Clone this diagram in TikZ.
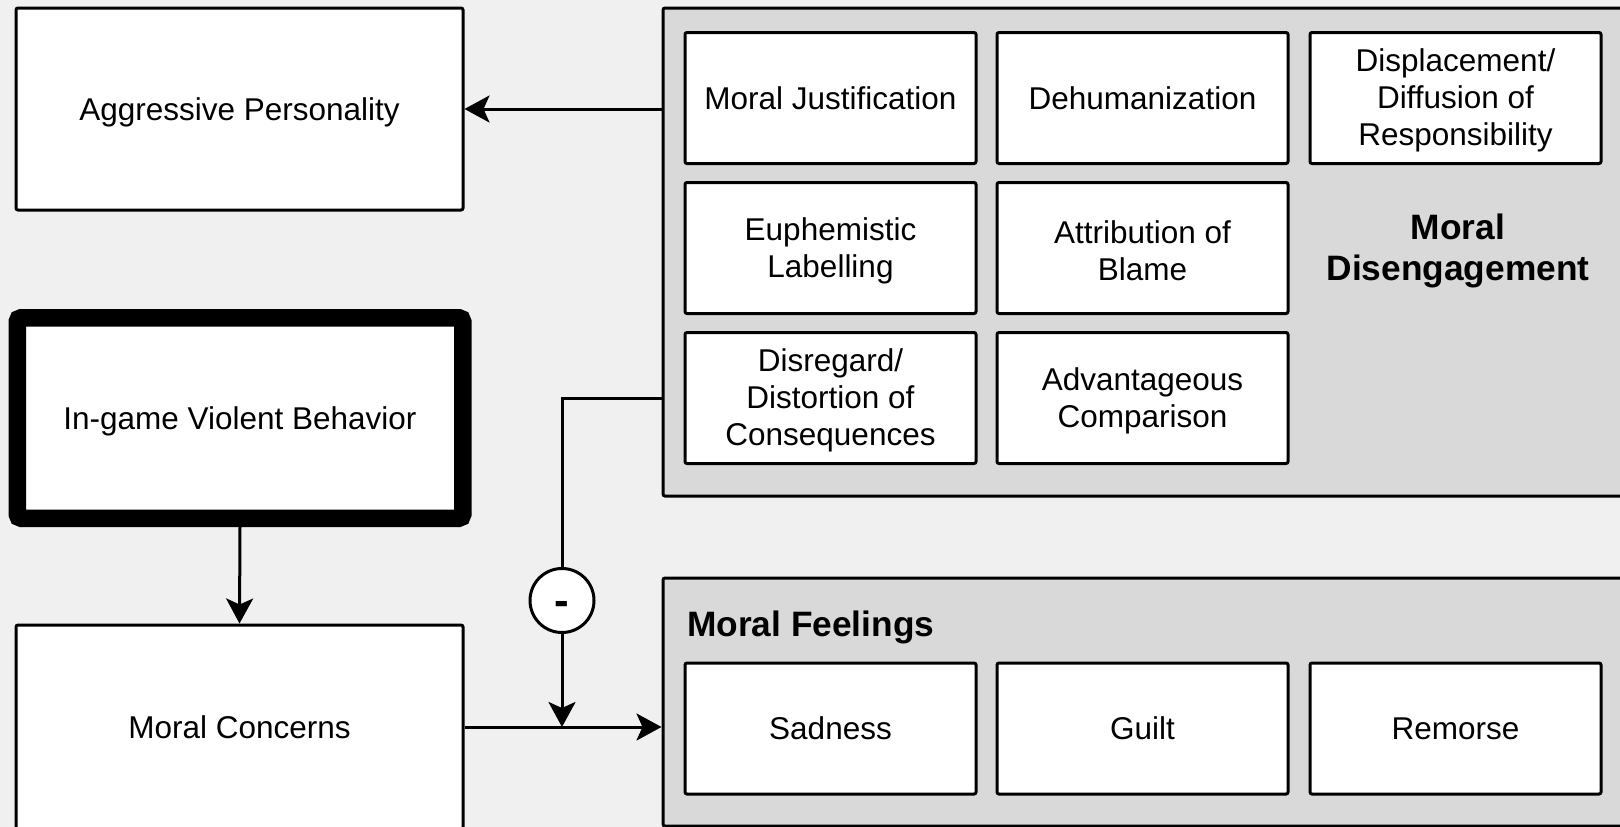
\documentclass[tikz,border=0pt]{standalone}
\usepackage{fontspec}
\setmainfont{Liberation Sans}
\usetikzlibrary{arrows.meta,calc}
\definecolor{bgc}{HTML}{F0F0F0}
\definecolor{grp}{HTML}{D9D9D9}
\newcommand{\mystrut}{\rule{0pt}{28.5pt}}
\tikzset{
 box/.style={draw, line width=3pt, fill=white, rounded corners=2pt, align=center, minimum width=447pt, minimum height=202pt, font=\fontsize{31.5}{37}\selectfont, inner sep=0pt},
 one/.style={text depth=0pt},
 sub/.style={box, minimum width=291pt, minimum height=131pt},
 group/.style={draw, line width=3pt, fill=grp, rounded corners=2pt, inner sep=0pt},
 arr/.style={line width=3pt, -{Stealth[length=25pt,width=27pt,inset=6pt]}},
 conn/.style={line width=3pt},
 lbl/.style={font=\bfseries\fontsize{35.3}{41}\selectfont, align=center, inner sep=0pt},
}
\begin{document}
\begin{tikzpicture}[x=1pt,y=-1pt]
\useasboundingbox (0,0) rectangle (1620,827);
\fill[bgc] (0,0) rectangle (1620,827);
\clip (0,0) rectangle (1620,827);

% groups
\node[group, minimum width=977pt, minimum height=488pt] (MD) at (1151.5,252) {};
\node[group, minimum width=977pt, minimum height=248pt] (MF) at (1151.5,702) {};

% left boxes
\node[box, one] (AP) at (239.5,109) {Aggressive Personality};
\node[box, one, line width=17.5pt, rounded corners=4pt, minimum width=445.5pt, minimum height=200.5pt] (IG) at (240,418) {In-game Violent Behavior};
\node[box, one, minimum height=204pt] (MC) at (239.5,727) {Moral Concerns};

% moral disengagement sub-boxes
\node[sub, one] (mj) at (830.5,98) {Moral Justification};
\node[sub, one] (dh) at (1142.5,98) {Dehumanization};
\node[sub] (dd) at (1455.5,98) {\mystrut Displacement/\\Diffusion of\\Responsibility};
\node[sub] (el) at (830.5,248) {\mystrut Euphemistic\\Labelling};
\node[sub] (ab) at (1142.5,248) {\mystrut Attribution of\\Blame};
\node[sub] (dc) at (830.5,398) {\mystrut Disregard/\\Distortion of\\Consequences};
\node[sub] (ac) at (1142.5,398) {\mystrut Advantageous\\Comparison};
\node[lbl] (mdl) at (1458,251) {Moral\\Disengagement};

% moral feelings sub-boxes
\node[lbl, anchor=west] (mfl) at (687,627.5) {Moral Feelings};
\node[sub, one] (sa) at (830.5,728.5) {Sadness};
\node[sub, one] (gu) at (1142.5,728.5) {Guilt};
\node[sub, one] (re) at (1455.5,728.5) {Remorse};

% minus circle
\node[circle, draw, line width=3pt, fill=white, minimum size=64pt, inner sep=0pt, font=\bfseries\fontsize{44}{48}\selectfont] (minus) at (562,600.5) {\raisebox{-14.7pt}[0pt][0pt]{-}};
\coordinate (j) at (562,727);

% connectors
\draw[arr] (MD.west |- AP.east) -- (AP.east);
\draw[arr] (IG.south) -- (MC.north);
\draw[conn] (MD.west |- dc.west) -| (minus.north);
\draw[arr] (minus.south) -- (j);
\draw[arr] (MC.east) -- (MC.east -| MF.west);
\end{tikzpicture}
\end{document}
